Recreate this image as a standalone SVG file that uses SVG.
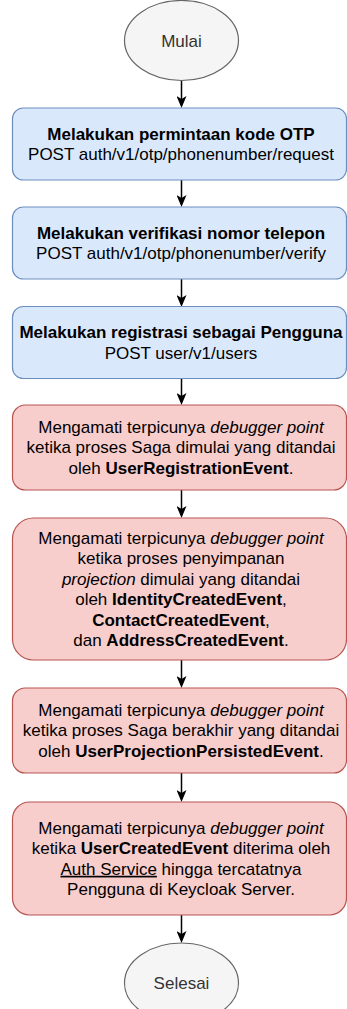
<svg xmlns="http://www.w3.org/2000/svg" width="347" height="1009" viewBox="0 0 347 1009">
  <defs>
    <marker id="arrow" viewBox="0 0 12 10" refX="9" refY="5" markerWidth="12" markerHeight="10" markerUnits="userSpaceOnUse" orient="auto">
      <path d="M0,0 L12,5 L0,10 L3,5 Z" fill="#000"/>
    </marker>
    <style>
      text { font-family: "Liberation Sans", Arial, sans-serif; font-size: 17px; text-anchor: middle; fill: #000; }
      .term { fill: #f5f5f5; stroke: #666666; stroke-width: 1.2; }
      .term-label { fill: #333333; }
      .api { fill: #dae8fc; stroke: #6c8ebf; stroke-width: 1.2; }
      .check { fill: #f8cecc; stroke: #b85450; stroke-width: 1.2; }
      .b { font-weight: bold; }
      .i { font-style: italic; }
      .u { text-decoration: underline; }
      .edge { stroke: #000; stroke-width: 1.5; fill: none; marker-end: url(#arrow); }
    </style>
  </defs>

  <!-- flow connectors -->
  <g id="connectors">
    <line class="edge" x1="181.5" y1="80.5" x2="181.5" y2="105"/>
    <line class="edge" x1="181.5" y1="180" x2="181.5" y2="204"/>
    <line class="edge" x1="181.5" y1="279" x2="181.5" y2="304"/>
    <line class="edge" x1="181.5" y1="378" x2="181.5" y2="402"/>
    <line class="edge" x1="181.5" y1="490" x2="181.5" y2="515"/>
    <line class="edge" x1="181.5" y1="660" x2="181.5" y2="685"/>
    <line class="edge" x1="181.5" y1="773" x2="181.5" y2="799"/>
    <line class="edge" x1="181.5" y1="915" x2="181.5" y2="940"/>
  </g>

  <!-- start -->
  <g id="start">
    <ellipse class="term" cx="181.5" cy="40.5" rx="57" ry="40"/>
    <text class="term-label" x="181.5" y="46.5">Mulai</text>
  </g>

  <!-- request OTP -->
  <g id="request-otp">
    <rect class="api" x="12.5" y="108" width="334" height="72" rx="10.8"/>
    <text class="b" x="181" y="139.5">Melakukan permintaan kode OTP</text>
    <text x="181" y="160">POST auth/v1/otp/phonenumber/request</text>
  </g>

  <!-- verify phone number -->
  <g id="verify-phone">
    <rect class="api" x="12.5" y="207" width="334" height="72" rx="10.8"/>
    <text class="b" x="181" y="238.5">Melakukan verifikasi nomor telepon</text>
    <text x="181" y="259">POST auth/v1/otp/phonenumber/verify</text>
  </g>

  <!-- register user -->
  <g id="register-user">
    <rect class="api" x="12.5" y="306.5" width="334" height="72" rx="10.8"/>
    <text class="b" x="181" y="338">Melakukan registrasi sebagai Pengguna</text>
    <text x="181" y="358.5">POST user/v1/users</text>
  </g>

  <!-- saga start -->
  <g id="saga-start">
    <rect class="check" x="12.5" y="405" width="334" height="85" rx="12.75"/>
    <text x="181" y="432.5">Mengamati terpicunya <tspan class="i">debugger point</tspan></text>
    <text x="181" y="453">ketika proses Saga dimulai yang ditandai</text>
    <text x="181" y="473.5">oleh <tspan class="b">UserRegistrationEvent</tspan>.</text>
  </g>

  <!-- projection storage -->
  <g id="projection-store">
    <rect class="check" x="12.5" y="518" width="334" height="142" rx="21"/>
    <text x="181" y="543.75">Mengamati terpicunya <tspan class="i">debugger point</tspan></text>
    <text x="181" y="564.25">ketika proses penyimpanan</text>
    <text x="181" y="584.75"><tspan class="i">projection</tspan> dimulai yang ditandai</text>
    <text x="181" y="605.25">oleh <tspan class="b">IdentityCreatedEvent</tspan>,</text>
    <text x="181" y="625.75"><tspan class="b">ContactCreatedEvent</tspan>,</text>
    <text x="181" y="646.25">dan <tspan class="b">AddressCreatedEvent</tspan>.</text>
  </g>

  <!-- saga end -->
  <g id="saga-end">
    <rect class="check" x="12.5" y="688" width="334" height="85" rx="12.75"/>
    <text x="181" y="715.5">Mengamati terpicunya <tspan class="i">debugger point</tspan></text>
    <text x="181" y="736">ketika proses Saga berakhir yang ditandai</text>
    <text x="181" y="756.5">oleh <tspan class="b">UserProjectionPersistedEvent</tspan>.</text>
  </g>

  <!-- keycloak user created -->
  <g id="keycloak-user">
    <rect class="check" x="12.5" y="802" width="334" height="113" rx="17"/>
    <text x="181" y="833.75">Mengamati terpicunya <tspan class="i">debugger point</tspan></text>
    <text x="181" y="854.25">ketika <tspan class="b">UserCreatedEvent</tspan> diterima oleh</text>
    <text x="181" y="874.75"><tspan class="u">Auth Service</tspan> hingga tercatatnya</text>
    <text x="181" y="895.25">Pengguna di Keycloak Server.</text>
  </g>

  <!-- end -->
  <g id="end">
    <ellipse class="term" cx="181.5" cy="983" rx="57" ry="40"/>
    <text class="term-label" x="181.5" y="989">Selesai</text>
  </g>
</svg>
